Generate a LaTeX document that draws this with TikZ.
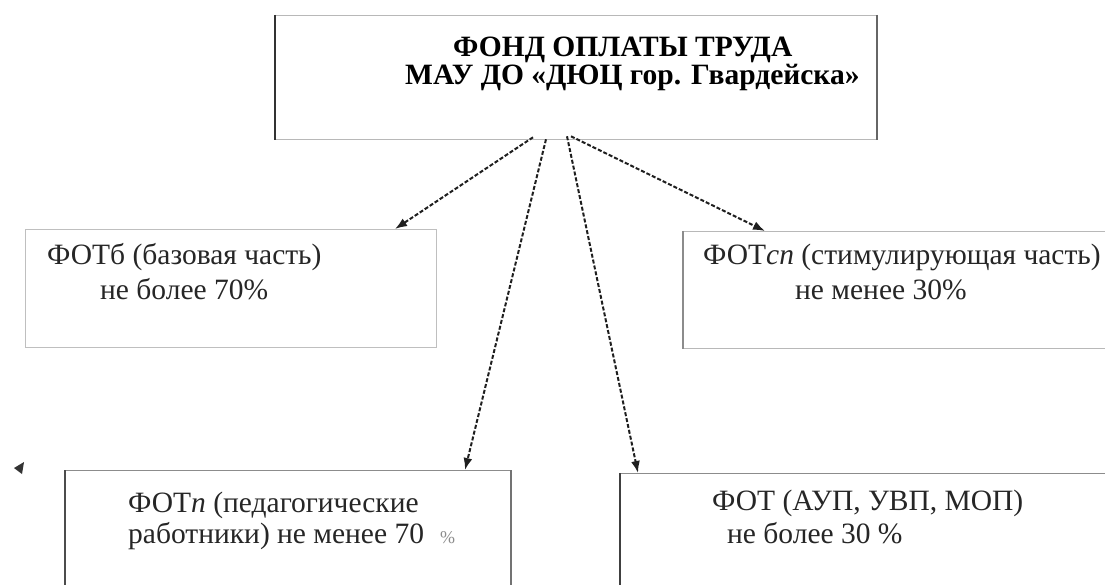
\documentclass[tikz,border=0pt]{standalone}
\usepackage{fontspec}
\setmainfont{Liberation Serif}
\usetikzlibrary{arrows.meta}
\begin{document}
\begin{tikzpicture}[x=1pt,y=-1pt,
  box/.style={draw=#1, line width=1.3pt, inner sep=0pt, anchor=north west},
  edgeline/.style={draw=#1, line width=2pt},
  txt/.style={inner sep=0pt, anchor=base west, text=black!85,
    font=\fontsize{29.5}{32}\selectfont},
  ttl/.style={inner sep=0pt, anchor=base west, text=black,
    font=\bfseries\fontsize{29.5}{32}\selectfont},
  arr/.style={draw=black!88, line width=2pt, dash pattern=on 4pt off 2pt,
    -{Latex[length=12pt,width=9pt]}}
]
\useasboundingbox (0,0) rectangle (1105,585);
\clip (0,0) rectangle (1105,585);
\fill[white] (0,0) rectangle (1105,585);

% boxes
\node[box=black!28, minimum width=601pt, minimum height=124pt] (top) at (275,15) {};
\node[box=black!25, minimum width=411pt, minimum height=118pt] (b) at (25,229) {};
\node[box=black!28, minimum width=440pt, minimum height=117pt] (sp) at (683,231) {};
\node[box=black!45, minimum width=445pt, minimum height=140pt] (p) at (65,470) {};
\node[box=black!45, minimum width=500pt, minimum height=140pt] (aup) at (620,473) {};

% darker edges
\draw[edgeline=black!80] (top.north west) -- (top.south west);
\draw[edgeline=black!60] (top.north east) -- (top.south east);
\draw[edgeline=black!45] (sp.north west) -- (sp.south west);
\draw[edgeline=black!70] (p.north west) -- (p.south west);
\draw[edgeline=black!55] (p.north east) -- (p.south east);
\draw[edgeline=black!75] (aup.north west) -- (aup.south west);

% texts
\node[ttl] (t1) at (453,57) {ФОНД ОПЛАТЫ ТРУДА};
\node[ttl] (t2) at (405,85) {МАУ ДО «ДЮЦ гор. Гвардейска»};

\node[txt] (b1) at (47,265) {ФОТб (базовая часть)};
\node[txt] (b2) at (100,299) {не более 70\%};

\node[txt] (s1) at (703,265) {ФОТ\textit{сп} (стимулирующая часть)};
\node[txt] (s2) at (795,299) {не менее 30\%};

\node[txt] (p1) at (128,512) {ФОТ\textit{п} (педагогические};
\node[txt] (p2) at (128,543) {работники) не менее 70\hspace{16pt}{\color{black!45}\fontsize{18}{20}\selectfont\%}};

\node[txt] (a1) at (712,510) {ФОТ (АУП, УВП, МОП)};
\node[txt] (a2) at (727,543) {не более 30 \%};

% connectors
\draw[arr] ([xshift=258pt,yshift=3pt]top.south west) -- ([xshift=370pt]b.north west);
\draw[arr] ([xshift=271pt,yshift=1pt]top.south west) -- ([xshift=400pt]p.north west);
\draw[arr] ([xshift=292pt,yshift=4pt]top.south west) -- ([xshift=18pt]aup.north west);
\draw[arr] ([xshift=296pt,yshift=4pt]top.south west) -- ([xshift=82pt]sp.north west);

% stray mark
\fill[black!80] (14,468) -- (24,462) -- (22,474) -- cycle;
\end{tikzpicture}
\end{document}
